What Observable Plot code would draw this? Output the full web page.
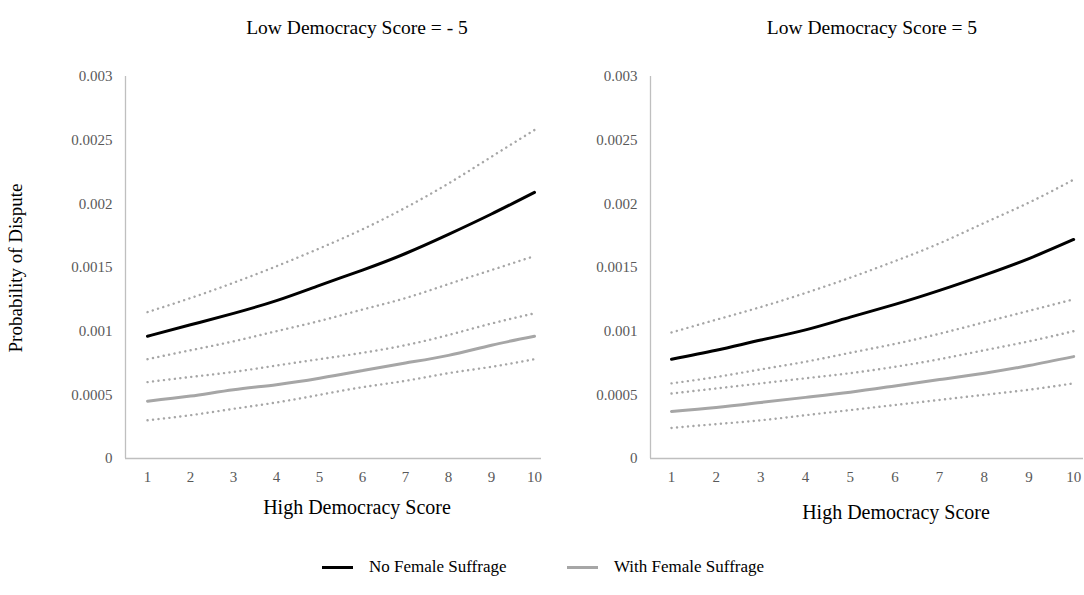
<!DOCTYPE html>
<html>
<head>
<meta charset="utf-8">
<script src="https://cdn.jsdelivr.net/npm/d3@7"></script>
<script src="https://cdn.jsdelivr.net/npm/@observablehq/plot@0.6"></script>
<style>
  html, body { margin: 0; padding: 0; background: #fff; }
  #wrap { position: relative; width: 1084px; height: 595px; overflow: hidden; font-family: "Liberation Serif", serif; color: #000; }
  .abs { position: absolute; white-space: nowrap; transform: translate(-50%, -50%); }
  .panel { position: absolute; left: 0; top: 0; }
  .title { font-size: 19.5px; }
  .xlab { font-size: 20px; }
  .ylab { font-size: 19px; transform: translate(-50%, -50%) rotate(-90deg); }
  .leg { position: absolute; top: 557px; font-size: 17px; display: flex; align-items: center; }
  .sw { display: inline-block; width: 31px; height: 3px; margin-right: 16px; }
</style>
</head>
<body>
<div id="wrap">
  <div class="abs title" style="left:357px; top:28px;">Low Democracy Score = - 5</div>
  <div class="abs title" style="left:872px; top:28px;">Low Democracy Score = 5</div>
  <div class="abs ylab" style="left:16px; top:268px;">Probability of Dispute</div>
  <div class="abs xlab" style="left:357px; top:507px;">High Democracy Score</div>
  <div class="abs xlab" style="left:896px; top:512px;">High Democracy Score</div>
  <div class="leg" style="left:322px;"><span class="sw" style="background:#000"></span>No Female Suffrage</div>
  <div class="leg" style="left:567px;"><span class="sw" style="background:#a6a6a6"></span>With Female Suffrage</div>
</div>
<script>
// Categories
const scores = [1, 2, 3, 4, 5, 6, 7, 8, 9, 10];
const yTicks = [0, 0.0005, 0.001, 0.0015, 0.002, 0.0025, 0.003];

// Panel: Low Democracy Score = -5
const neg5_noSuffrage      = [0.00096, 0.00105, 0.00114, 0.00124, 0.00136, 0.00148, 0.00161, 0.00176, 0.00192, 0.00209];
const neg5_noSuffrageUpper = [0.00115, 0.00126, 0.00138, 0.00151, 0.00165, 0.00180, 0.00197, 0.00216, 0.00237, 0.00258];
const neg5_noSuffrageLower = [0.00078, 0.00085, 0.00092, 0.00100, 0.00108, 0.00117, 0.00126, 0.00137, 0.00148, 0.00159];
const neg5_withSuffrage      = [0.00045, 0.00049, 0.00054, 0.00058, 0.00063, 0.00069, 0.00075, 0.00081, 0.00089, 0.00096];
const neg5_withSuffrageUpper = [0.00060, 0.00064, 0.00068, 0.00073, 0.00078, 0.00083, 0.00089, 0.00097, 0.00106, 0.00114];
const neg5_withSuffrageLower = [0.00030, 0.00034, 0.00039, 0.00044, 0.00050, 0.00056, 0.00061, 0.00067, 0.00072, 0.00078];

// Panel: Low Democracy Score = 5
const pos5_noSuffrage      = [0.00078, 0.00085, 0.00093, 0.00101, 0.00111, 0.00121, 0.00132, 0.00144, 0.00157, 0.00172];
const pos5_noSuffrageUpper = [0.00099, 0.00109, 0.00119, 0.00130, 0.00142, 0.00155, 0.00169, 0.00185, 0.00201, 0.00219];
const pos5_noSuffrageLower = [0.00059, 0.00064, 0.00070, 0.00076, 0.00083, 0.00090, 0.00098, 0.00107, 0.00116, 0.00125];
const pos5_withSuffrage      = [0.00037, 0.00040, 0.00044, 0.00048, 0.00052, 0.00057, 0.00062, 0.00067, 0.00073, 0.00080];
const pos5_withSuffrageUpper = [0.00051, 0.00055, 0.00059, 0.00063, 0.00067, 0.00072, 0.00078, 0.00085, 0.00092, 0.00100];
const pos5_withSuffrageLower = [0.00024, 0.00027, 0.00030, 0.00034, 0.00038, 0.00042, 0.00046, 0.00050, 0.00054, 0.00059];

function toRows(key, vals) { return scores.map((s, i) => ({x: s, y: vals[i], key})); }

const fmt = d => d === 0 ? "0" : String(+d.toFixed(4));

function panel(series, ml, mr, xdom) {
  const ci = [].concat(
    toRows("nu", series.noUpper), toRows("nl", series.noLower),
    toRows("wu", series.withUpper), toRows("wl", series.withLower));
  return Plot.plot({
    width: 1084, height: 500,
    marginLeft: ml, marginRight: mr, marginTop: 76, marginBottom: 42,
    x: {type: "linear", domain: xdom},
    y: {domain: [0, 0.003]},
    style: {fontFamily: "Liberation Serif, serif", fontSize: "15px", color: "#595959", background: "transparent", overflow: "visible"},
    marks: [
      Plot.axisY({ticks: yTicks, tickSize: 0, tickPadding: 13, tickFormat: fmt, label: null}),
      Plot.axisX({ticks: scores, tickSize: 0, tickPadding: 13, tickFormat: d => String(d), label: null}),
      Plot.ruleY([0], {stroke: "#bfbfbf", strokeWidth: 1.3}),
      Plot.ruleX([xdom[0]], {y1: 0, y2: 0.003, stroke: "#bfbfbf", strokeWidth: 1.3}),
      Plot.line(ci, {x: "x", y: "y", z: "key", stroke: "#a6a6a6", strokeWidth: 2.4,
        strokeDasharray: "0.1 5.4", strokeLinecap: "round", curve: "natural"}),
      Plot.line(toRows("w", series.with), {x: "x", y: "y", stroke: "#a6a6a6", strokeWidth: 3, curve: "natural"}),
      Plot.line(toRows("n", series.no), {x: "x", y: "y", stroke: "#000", strokeWidth: 3, curve: "natural"})
    ]
  });
}

const wrap = document.getElementById("wrap");
const left = panel({
  no: neg5_noSuffrage, noUpper: neg5_noSuffrageUpper, noLower: neg5_noSuffrageLower,
  with: neg5_withSuffrage, withUpper: neg5_withSuffrageUpper, withLower: neg5_withSuffrageLower
}, 125, 1084 - 541, [0.488, 10.163]);
const right = panel({
  no: pos5_noSuffrage, noUpper: pos5_noSuffrageUpper, noLower: pos5_noSuffrageLower,
  with: pos5_withSuffrage, withUpper: pos5_withSuffrageUpper, withLower: pos5_withSuffrageLower
}, 650, 1, [0.53, 10.22]);
left.classList.add("panel");
right.classList.add("panel");
wrap.appendChild(left);
wrap.appendChild(right);
</script>
</body>
</html>
